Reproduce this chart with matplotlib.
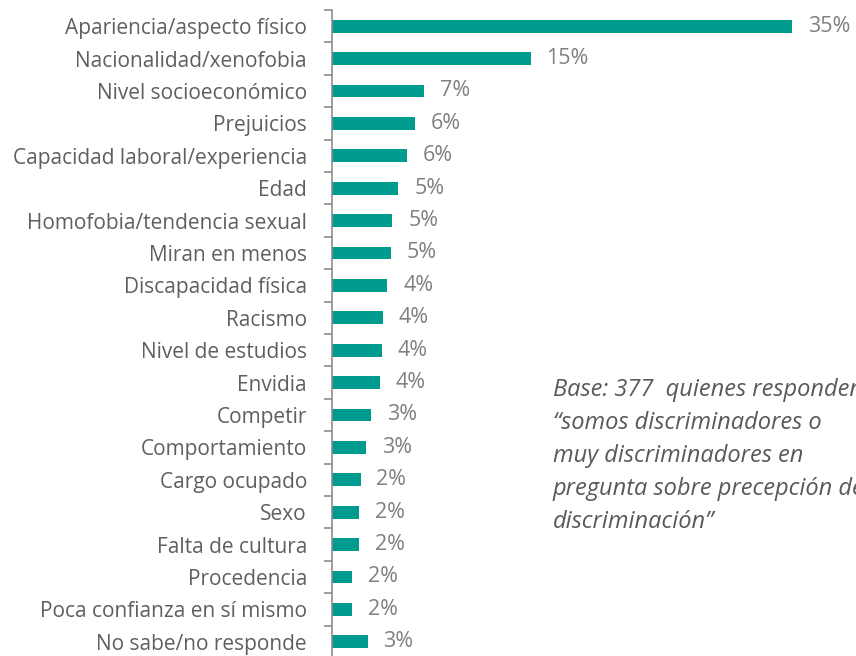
import numpy as np
import matplotlib.pyplot as plt

# Data
categories = ["Apariencia/aspecto físico", "Nacionalidad/xenofobia", "Nivel socioeconómico",
              "Prejuicios", "Capacidad laboral/experiencia", "Edad", "Homofobia/tendencia sexual",
              "Miran en menos", "Discapacidad física", "Racismo", "Nivel de estudios", "Envidia",
              "Competir", "Comportamiento", "Cargo ocupado", "Sexo", "Falta de cultura",
              "Procedencia", "Poca confianza en sí mismo", "No sabe/no responde"]
values = [35.0, 15.1, 7.0, 6.3, 5.7, 5.05, 4.6, 4.5, 4.2, 3.86, 3.78, 3.63,
          2.97, 2.59, 2.18, 2.08, 2.05, 1.54, 1.5, 2.72]
value_labels = ["35%", "15%", "7%", "6%", "6%", "5%", "5%", "5%", "4%", "4%", "4%", "4%",
                "3%", "3%", "2%", "2%", "2%", "2%", "2%", "3%"]
note = ("Base: 377  quienes responden\n\u201csomos discriminadores o\nmuy discriminadores en\n"
        "pregunta sobre precepción de\ndiscriminación\u201d")

plt.rcParams['font.family'] = ['Open Sans', 'DejaVu Sans']

fig = plt.figure(figsize=(8.56, 6.56), dpi=100)
ax = fig.add_axes([332 / 856, -2 / 656, 526 / 856, 648 / 656])

y = np.arange(len(categories))
ax.barh(y, values, height=0.39, color='#009B8F')

for yi, v, lab in zip(y, values, value_labels):
    ax.text(v + 1.2, yi, lab, va='center', ha='left', fontsize=15.5, color='#808080')

ax.set_xlim(0, 40)
ax.set_ylim(len(categories) - 0.5, -0.5)
ax.set_yticks(y)
ax.set_yticklabels(categories, fontsize=15, color='#5F5F5F')
ax.tick_params(axis='y', which='major', length=0, pad=18)
ax.set_yticks(np.arange(-0.5, len(categories), 1.0), minor=True)
ax.tick_params(axis='y', which='minor', length=6, width=1.2, color='#8C8C8C')
ax.set_xticks([])

for s in ['top', 'right', 'bottom']:
    ax.spines[s].set_visible(False)
ax.spines['left'].set_color('#8C8C8C')
ax.spines['left'].set_linewidth(1.2)

# the note runs past the right edge in the original too
fig.text(553 / 856, 1 - 378 / 656, note, ha='left', va='top', fontsize=17,
         style='italic', color='#595959', linespacing=1.5)

fig.savefig('out.png', dpi=100)
